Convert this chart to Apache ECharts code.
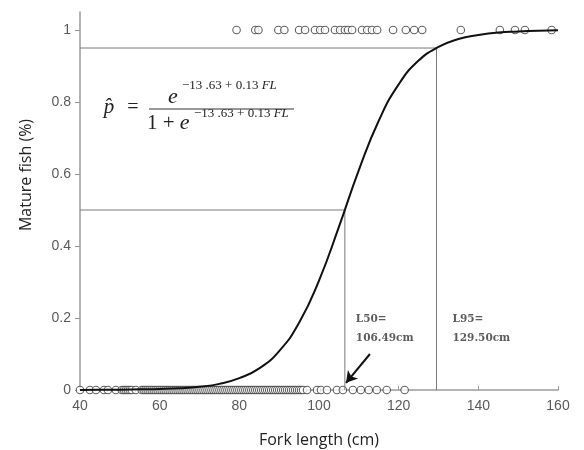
<!DOCTYPE html>
<html>
<head>
<meta charset="utf-8">
<script src="https://cdn.jsdelivr.net/npm/echarts@6/dist/echarts.min.js"></script>
<style>
  html, body { margin: 0; padding: 0; background: #fff; }
  #chart { width: 584px; height: 450px; }
</style>
</head>
<body>
<div id="chart"></div>
<script>
// Fork lengths (cm) of immature fish (observed maturity = 0)
const immatureFL = [
  40, 42.5, 44, 46, 47, 49, 50.5, 51, 51.5, 52, 52.5, 53, 54, 55.5, 56, 56.5,
  57, 57.5, 58, 58.5, 59, 59.5, 60, 60.5, 61, 61.5, 62, 62.5, 63, 63.5, 64,
  64.5, 65, 65.5, 66, 66.5, 67, 67.5, 68, 68.5, 69, 69.5, 70, 70.5, 71, 71.5,
  72, 72.5, 73, 73.5, 74, 74.5, 75, 75.5, 76, 76.5, 77, 77.5, 78, 78.5, 79,
  79.5, 80, 80.5, 81, 81.5, 82, 82.5, 83, 83.5, 84, 84.5, 85, 85.5, 86, 86.5,
  87, 87.5, 88, 88.5, 89, 89.5, 90, 90.5, 91, 91.5, 92, 92.5, 93, 93.5, 94,
  94.5, 95, 95.5, 96, 97, 99.5, 100.5, 102, 104.5, 106, 108.5, 110.5, 112.5,
  114.5, 117, 121.5
];
// Fork lengths (cm) of mature fish (observed maturity = 1)
const matureFL = [
  79.3, 84, 84.8, 89.8, 91.3, 95, 96.5, 99, 100.3, 101.5, 104, 105.3,
  106.5, 107.3, 108.3, 110.8, 112.1, 113.3, 114.6, 118.6, 121.8, 123.9,
  125.9, 135.6, 145.4, 149.2, 151.7, 158.4
];
// Fitted maturity ogive, proportion mature by fork length
const curveFL = [40, 45, 50, 55, 60, 65, 70, 75, 80, 85, 90, 95, 100, 105,
  110, 115, 120, 125, 130, 135, 140, 145, 150, 155, 160];
const curveP = [0.000, 0.001, 0.001, 0.002, 0.003, 0.005, 0.009, 0.017, 0.033,
  0.060, 0.108, 0.187, 0.304, 0.453, 0.611, 0.748, 0.849, 0.915, 0.953,
  0.975, 0.986, 0.993, 0.996, 0.998, 0.999];
// Lengths at 50% and 95% maturity
const L50 = 106.49;
const L95 = 129.50;
const L50_text = 'L50=\n106.49cm';
const L95_text = 'L95=\n129.50cm';
// Axis tick labels
const xTicks = [40, 60, 80, 100, 120, 140, 160];
const yTicks = [0, 0.2, 0.4, 0.6, 0.8, 1];

const chart = echarts.init(document.getElementById('chart'), null, { renderer: 'canvas' });

const guideStyle = { color: '#7a7a7a', width: 1 };
const circle = {
  type: 'scatter',
  symbol: 'circle',
  symbolSize: 7.5,
  itemStyle: { color: '#ffffff', borderColor: '#3a3a3a', borderWidth: 1.1 },
  silent: true,
  z: 2
};
const serif = 'Liberation Serif';

chart.setOption({
  animation: false,
  backgroundColor: '#ffffff',
  grid: { left: 80, right: 26, top: 12, bottom: 60 },
  xAxis: {
    type: 'value',
    min: xTicks[0],
    max: xTicks[xTicks.length - 1],
    interval: 20,
    splitLine: { show: false },
    axisLine: { lineStyle: { color: '#9a9a9a', width: 1.5 } },
    axisTick: { inside: true, length: 4, lineStyle: { color: '#9a9a9a' } },
    axisLabel: { color: '#5a5a5a', fontFamily: 'Liberation Sans', fontSize: 14, margin: 9 }
  },
  yAxis: {
    type: 'value',
    min: 0,
    max: 1.05,
    interval: 0.2,
    splitLine: { show: false },
    axisLine: { show: true, lineStyle: { color: '#9a9a9a', width: 1.5 } },
    axisTick: { show: true, length: 5, customValues: yTicks, lineStyle: { color: '#9a9a9a' } },
    axisLabel: { customValues: yTicks, color: '#5a5a5a', fontFamily: 'Liberation Sans', fontSize: 14, margin: 9 }
  },
  series: [
    Object.assign({ name: 'immature', data: immatureFL.map(v => [v, 0]) }, circle),
    Object.assign({ name: 'mature', data: matureFL.map(v => [v, 1]) }, circle),
    {
      name: 'L95 guide',
      type: 'line',
      data: [[xTicks[0], 0.95], [L95, 0.95], [L95, 0]],
      symbol: 'none',
      lineStyle: guideStyle,
      silent: true,
      z: 3
    },
    {
      name: 'L50 guide',
      type: 'line',
      data: [[xTicks[0], 0.5], [L50, 0.5], [L50, 0]],
      symbol: 'none',
      lineStyle: guideStyle,
      silent: true,
      z: 3
    },
    {
      name: 'ogive',
      type: 'line',
      data: curveFL.map((x, i) => [x, curveP[i]]),
      symbol: 'none',
      smooth: 0.5,
      lineStyle: { color: '#111', width: 2 },
      silent: true,
      z: 5,
      markLine: {
        silent: true,
        symbol: ['none', 'arrow'],
        symbolSize: [10, 11],
        label: { show: false },
        lineStyle: { color: '#111', width: 2, type: 'solid' },
        data: [[{ coord: [L50 + 6.3, 0.1] }, { coord: [L50 + 0.3, 0.02] }]]
      }
    },
    {
      name: 'lengths at maturity',
      type: 'scatter',
      symbolSize: 0,
      silent: true,
      data: [
        { value: [L50, 0.171], label: { formatter: L50_text, distance: 11 } },
        { value: [L95, 0.171], label: { formatter: L95_text, distance: 16 } }
      ],
      label: {
        show: true,
        position: 'right',
        fontFamily: 'DejaVu Serif',
        fontWeight: 'bold',
        fontSize: 10.5,
        lineHeight: 19,
        color: '#333'
      },
      z: 6
    }
  ],
  graphic: [
    {
      type: 'text', x: 26, y: 175, rotation: Math.PI / 2,
      style: {
        text: 'Mature fish (%)', fontFamily: 'Open Sans', fontSize: 16,
        fill: '#222', align: 'center', verticalAlign: 'middle'
      }
    },
    {
      type: 'text', x: 319, y: 440,
      style: {
        text: 'Fork length (cm)', fontFamily: 'Open Sans', fontSize: 16,
        fill: '#222', align: 'center', verticalAlign: 'middle'
      }
    },
    // logistic model: p-hat = e^(a+bFL) / (1 + e^(a+bFL))
    {
      type: 'text', x: 109, y: 107,
      style: { text: 'p\u0302', fontFamily: serif, fontStyle: 'italic', fontSize: 21, fill: '#222', align: 'center', verticalAlign: 'middle' }
    },
    {
      type: 'text', x: 133, y: 108,
      style: { text: '=', fontFamily: serif, fontSize: 20, fill: '#222', align: 'center', verticalAlign: 'middle' }
    },
    {
      type: 'text', x: 173, y: 97,
      style: { text: 'e', fontFamily: serif, fontStyle: 'italic', fontSize: 22, fill: '#222', align: 'center', verticalAlign: 'middle' }
    },
    {
      type: 'text', x: 182, y: 86,
      style: {
        text: '{n|\u221213 .63 + 0.13 }{v|FL}',
        align: 'left', verticalAlign: 'middle',
        rich: {
          n: { fontFamily: serif, fontSize: 13, fill: '#222' },
          v: { fontFamily: serif, fontSize: 13, fontStyle: 'italic', fill: '#222' }
        }
      }
    },
    {
      type: 'line', shape: { x1: 149, y1: 109, x2: 294, y2: 109 },
      style: { stroke: '#333', lineWidth: 1 }
    },
    {
      type: 'text', x: 147, y: 123,
      style: {
        text: '{n|1 + }{e|e}',
        align: 'left', verticalAlign: 'middle',
        rich: {
          n: { fontFamily: serif, fontSize: 21, fill: '#222' },
          e: { fontFamily: serif, fontSize: 22, fontStyle: 'italic', fill: '#222' }
        }
      }
    },
    {
      type: 'text', x: 194, y: 114,
      style: {
        text: '{n|\u221213 .63 + 0.13 }{v|FL}',
        align: 'left', verticalAlign: 'middle',
        rich: {
          n: { fontFamily: serif, fontSize: 13, fill: '#222' },
          v: { fontFamily: serif, fontSize: 13, fontStyle: 'italic', fill: '#222' }
        }
      }
    }
  ]
});
</script>
</body>
</html>
